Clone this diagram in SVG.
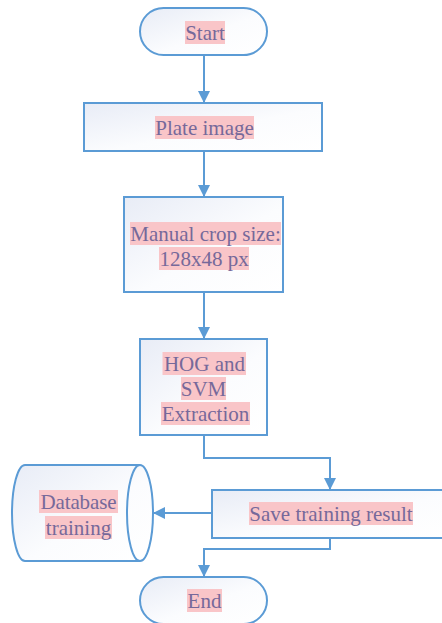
<svg xmlns="http://www.w3.org/2000/svg" width="442" height="623" viewBox="0 0 442 623">
<defs>
<linearGradient id="g" x1="0" y1="0" x2="1" y2="1">
<stop offset="0" stop-color="#e8ecf6"/>
<stop offset="0.55" stop-color="#fbfcfe"/>
<stop offset="1" stop-color="#ffffff"/>
</linearGradient>
<marker id="ah" markerUnits="userSpaceOnUse" markerWidth="12" markerHeight="12" refX="12" refY="6" orient="auto">
<path d="M0,0 L12,6 L0,12 Z" fill="#5b9bd5"/>
</marker>
<style>
.shape{fill:url(#g);stroke:#5b9bd5;stroke-width:2}
.hl{fill:#f9c5c8}
.t{font-family:"Liberation Serif","Times New Roman",serif;font-size:21px;fill:#76699a;text-anchor:middle}
.c{fill:none;stroke:#5b9bd5;stroke-width:2}
</style>
</defs>
<rect width="442" height="623" fill="#ffffff"/>
<g id="connectors">
<line class="c" x1="204" y1="55" x2="204" y2="103" marker-end="url(#ah)"/>
<line class="c" x1="204" y1="151" x2="204" y2="197" marker-end="url(#ah)"/>
<line class="c" x1="204" y1="292" x2="204" y2="339" marker-end="url(#ah)"/>
<polyline class="c" points="204,435 204,458 330,458 330,490" marker-end="url(#ah)"/>
<line class="c" x1="212" y1="513" x2="153" y2="513" marker-end="url(#ah)"/>
<polyline class="c" points="330,538 330,549 204,549 204,577" marker-end="url(#ah)"/>
</g>
<g id="start">
<rect class="shape" x="140" y="8" width="127" height="47" rx="23.5"/>
<rect class="hl" x="185" y="21" width="40" height="23"/>
<text class="t" x="205" y="39.5">Start</text>
</g>
<g id="plate">
<rect class="shape" x="84" y="103" width="238" height="48"/>
<rect class="hl" x="155" y="116" width="99" height="23"/>
<text class="t" x="204.5" y="134.5">Plate image</text>
</g>
<g id="manual">
<rect class="shape" x="124" y="197" width="159" height="95"/>
<rect class="hl" x="130" y="222" width="151" height="23"/>
<rect class="hl" x="159" y="247" width="90" height="23"/>
<text class="t" x="205.5" y="240.5">Manual crop size:</text>
<text class="t" x="204" y="265.5">128x48 px</text>
</g>
<g id="hog">
<rect class="shape" x="140" y="339" width="127" height="96"/>
<rect class="hl" x="162.5" y="352" width="83.5" height="23"/>
<rect class="hl" x="181" y="377" width="45" height="23"/>
<rect class="hl" x="161" y="402" width="89" height="23"/>
<text class="t" x="204.5" y="370.5">HOG and</text>
<text class="t" x="203.5" y="395.5">SVM</text>
<text class="t" x="205.5" y="420.5">Extraction</text>
</g>
<g id="database">
<path class="shape" d="M25,465 L140,465 A13,48 0 0 1 140,561 L25,561 A13,48 0 0 1 25,465 Z"/>
<path class="c" d="M140,465 A13,48 0 0 0 140,561"/>
<rect class="hl" x="39" y="490" width="79" height="23"/>
<rect class="hl" x="45" y="516" width="67" height="23"/>
<text class="t" x="78.5" y="508.5" textLength="76">Database</text>
<text class="t" x="78.5" y="534.5">training</text>
</g>
<g id="save">
<rect class="shape" x="212" y="490" width="235" height="48"/>
<rect class="hl" x="249" y="502" width="164" height="23"/>
<text class="t" x="331" y="520.5">Save training result</text>
</g>
<g id="end">
<rect class="shape" x="140" y="577" width="127" height="47" rx="23.5"/>
<rect class="hl" x="187" y="589" width="35" height="23"/>
<text class="t" x="204.5" y="607.5">End</text>
</g>
</svg>
